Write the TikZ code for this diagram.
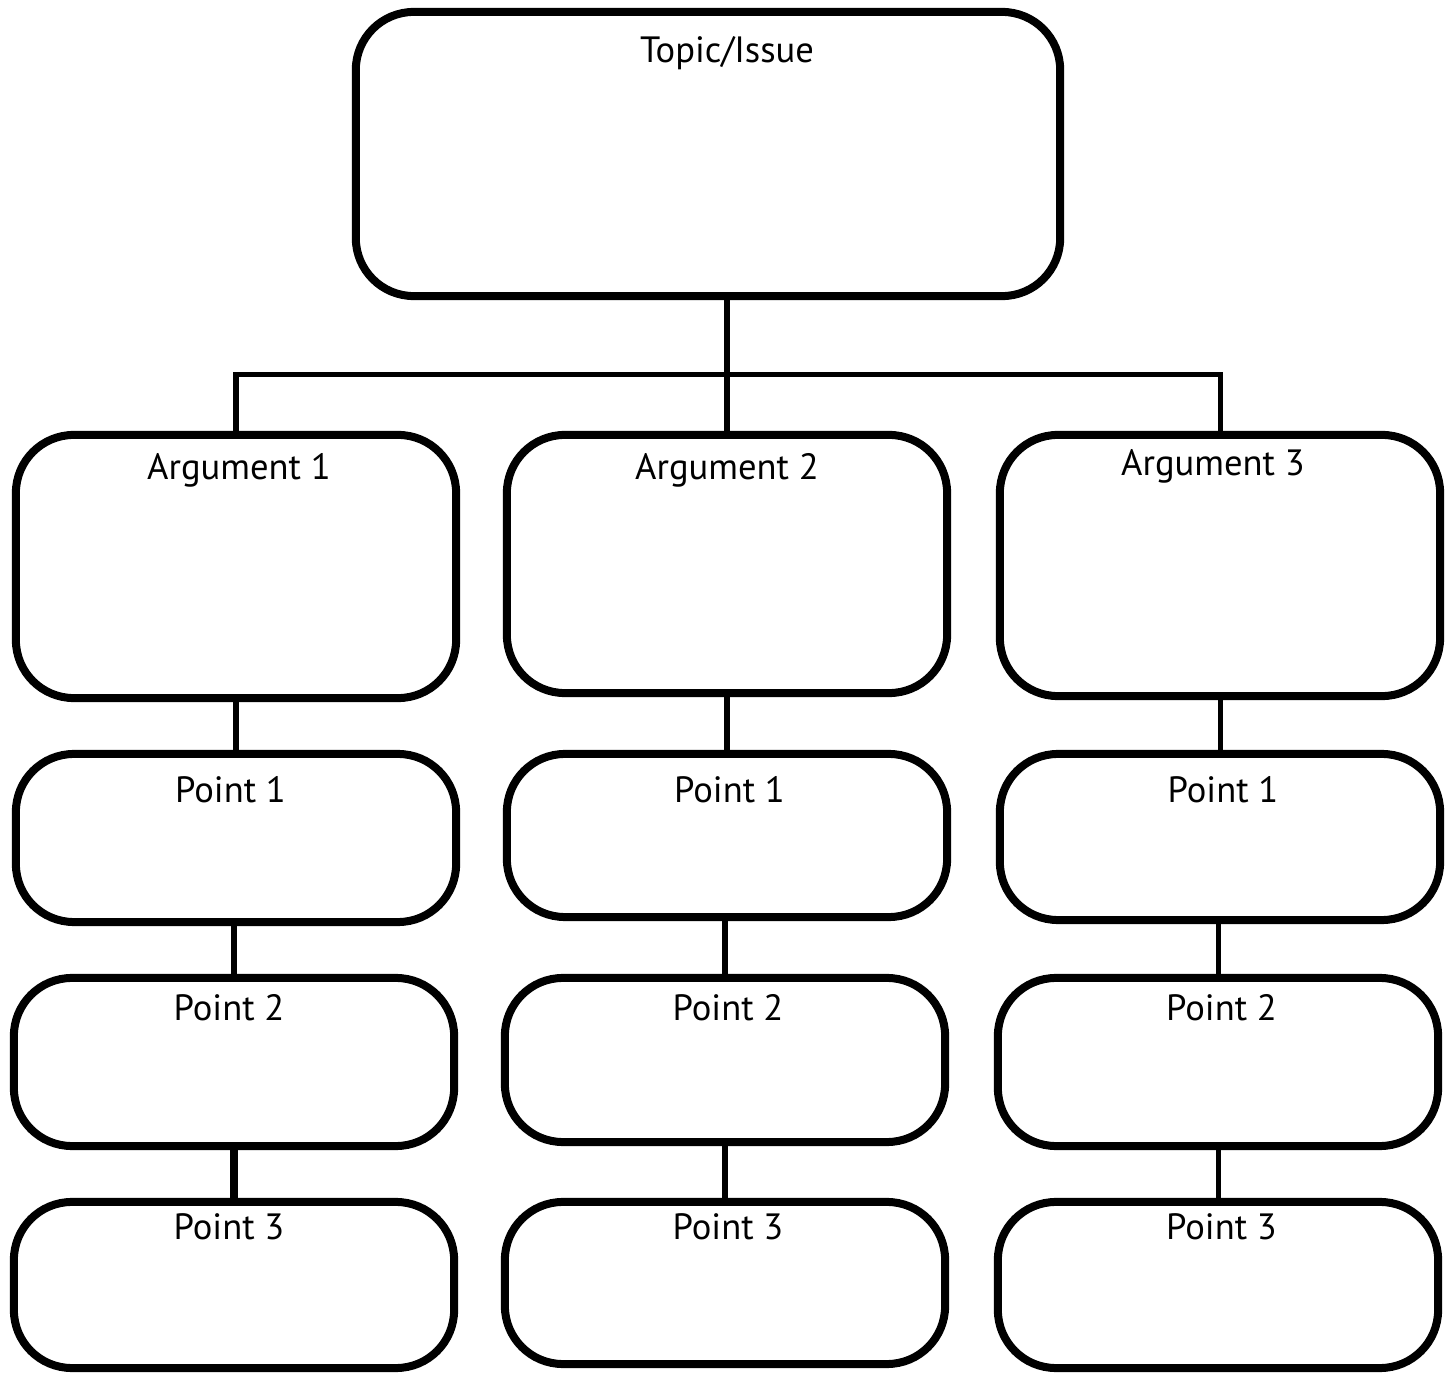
\documentclass[tikz,border=0pt]{standalone}
\usepackage{fontspec}
\setmainfont{PT Sans}
\tikzset{
  box/.style={draw=black, line width=0.08cm, rounded corners=0.58cm, minimum width=4.4cm, inner sep=0pt},
  lbl/.style={anchor=base, inner sep=0pt, font=\fontsize{10.4}{12}\selectfont},
  link/.style={draw=black, line width=0.05cm}
}
\begin{document}
\begin{tikzpicture}[x=0.01cm,y=-0.01cm] % pixel units, y downwards
\useasboundingbox (0,0) rectangle (1453,1376);
% topic
\node[box, minimum width=7.04cm, minimum height=2.84cm] (topic) at (708,154) {};
\node[lbl] (topict) at (727,63) {Topic/Issue};
% arguments
\node[box, minimum height=2.63cm] (a1) at (236,566.5) {};
\node[box, minimum height=2.58cm] (a2) at (727,564) {};
\node[box, minimum height=2.61cm] (a3) at (1220,565.5) {};
\node[lbl] (a1t) at (239,480) {Argument 1};
\node[lbl] (a2t) at (727,480) {Argument 2};
\node[lbl] (a3t) at (1213,476) {Argument 3};
% points, first row
\node[box, minimum height=1.68cm] (p11) at (236,838) {};
\node[box, minimum height=1.63cm] (p12) at (727,835.5) {};
\node[box, minimum height=1.66cm] (p13) at (1220,837) {};
\node[lbl] (p11t) at (230.5,803) {Point 1};
\node[lbl] (p12t) at (729.5,803) {Point 1};
\node[lbl] (p13t) at (1223,803) {Point 1};
% second row
\node[box, minimum height=1.68cm] (p21) at (234,1062) {};
\node[box, minimum height=1.64cm] (p22) at (725,1060) {};
\node[box, minimum height=1.68cm] (p23) at (1218,1062) {};
\node[lbl] (p21t) at (229,1021) {Point 2};
\node[lbl] (p22t) at (728,1021) {Point 2};
\node[lbl] (p23t) at (1221.5,1021) {Point 2};
% third row
\node[box, minimum height=1.66cm] (p31) at (234,1285) {};
\node[box, minimum height=1.62cm] (p32) at (725,1283) {};
\node[box, minimum height=1.66cm] (p33) at (1218,1285) {};
\node[lbl] (p31t) at (229,1240) {Point 3};
\node[lbl] (p32t) at (728,1240) {Point 3};
\node[lbl] (p33t) at (1221.5,1240) {Point 3};
% connectors
\coordinate (bus) at (727,375);
\draw[link] (topic.south -| a2) -- (a2.north);
\draw[link] ([yshift=-0.06cm]a1.north) |- (bus) -| ([yshift=-0.06cm]a3.north);
\foreach \c in {1,2,3}{
  \draw[link] (a\c.south) -- (a\c.south |- p1\c.north);
  \draw[link] (p2\c.north |- p1\c.south) -- (p2\c.north);
}
\draw[link, line width=0.07cm] ([yshift=0.02cm]p21.south) -- (p31.north);
\draw[link] (p22.south) -- (p32.north);
\draw[link] (p23.south) -- (p33.north);
\end{tikzpicture}
\end{document}
